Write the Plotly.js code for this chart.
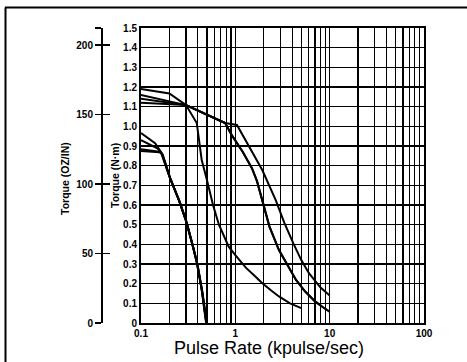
<!DOCTYPE html>
<html>
<head>
<meta charset="utf-8">
<script src="https://cdn.plot.ly/plotly-3.0.1.min.js"></script>
<style>html,body{margin:0;padding:0;background:#fff;}#chart{width:467px;height:362px;}</style>
</head>
<body>
<div id="chart"></div>
<script>
// High-speed curves (N·m vs kpulse/sec)
const curveA_x = [0.1, 0.3, 0.39, 0.44, 0.5, 0.58, 0.67, 0.76, 0.85, 1.0, 1.3, 1.64, 1.92, 2.4, 2.9, 3.8, 5.0];
const curveA_y = [1.14, 1.108, 1.017, 0.829, 0.727, 0.6, 0.5, 0.44, 0.388, 0.345, 0.28, 0.235, 0.203, 0.165, 0.135, 0.1, 0.076];
const curveB_x = [0.1, 0.3, 0.78, 0.92, 1.2, 1.5, 1.7, 1.92, 2.3, 2.9, 3.6, 4.4, 5.5, 7.0, 8.5, 10];
const curveB_y = [1.12, 1.108, 1.017, 0.954, 0.87, 0.787, 0.72, 0.624, 0.49, 0.371, 0.29, 0.219, 0.16, 0.11, 0.08, 0.057];
const curveC_x = [0.1, 0.3, 0.78, 0.92, 1.2, 1.5, 1.7, 1.92, 2.3, 2.9, 3.6, 4.4, 5.5, 7.0, 8.5, 10];
const curveC_y = [1.16, 1.108, 1.017, 0.954, 0.87, 0.787, 0.72, 0.624, 0.49, 0.371, 0.29, 0.219, 0.16, 0.11, 0.08, 0.057];
const curveD_x = [0.1, 0.2, 0.3, 0.78, 1.04, 1.4, 1.93, 2.68, 3.3, 4.12, 5.0, 6.03, 8.0, 10];
const curveD_y = [1.19, 1.167, 1.108, 1.017, 1.007, 0.896, 0.778, 0.625, 0.51, 0.405, 0.32, 0.253, 0.18, 0.14];
// Low-speed curves
const low1_x = [0.1, 0.141, 0.162, 0.18, 0.2, 0.25, 0.3, 0.35, 0.39, 0.44, 0.49];
const low1_y = [0.966, 0.914, 0.871, 0.81, 0.745, 0.63, 0.52, 0.4, 0.31, 0.17, 0];
const low2_x = [0.1, 0.149, 0.165, 0.182, 0.202, 0.252, 0.302, 0.352, 0.392, 0.442, 0.492];
const low2_y = [0.93, 0.888, 0.865, 0.805, 0.74, 0.625, 0.515, 0.395, 0.305, 0.165, 0];
const low3_x = [0.1, 0.155, 0.168, 0.184, 0.204, 0.255, 0.305, 0.355, 0.395, 0.445, 0.495];
const low3_y = [0.883, 0.871, 0.86, 0.8, 0.735, 0.62, 0.51, 0.39, 0.3, 0.16, 0];
const low4_x = [0.1, 0.158, 0.17, 0.186, 0.206, 0.258, 0.308, 0.358, 0.398, 0.448, 0.498];
const low4_y = [0.874, 0.868, 0.855, 0.795, 0.73, 0.615, 0.505, 0.385, 0.295, 0.155, 0];

// Tick labels
const xTickVals = [0.1,0.2,0.3,0.4,0.5,0.6,0.7,0.8,0.9,1,2,3,4,5,6,7,8,9,10,20,30,40,50,60,70,80,90,100];
const xTickText = ["0.1","","","","","","","","","1","","","","","","","","","10","","","","","","","","","100"];
const yTickVals = [0,0.1,0.2,0.3,0.4,0.5,0.6,0.7,0.8,0.9,1.0,1.1,1.2,1.3,1.4,1.5];
const yTickText = ["0","0.1","0.2","0.3","0.4","0.5","0.6","0.7","0.8","0.9","1.0","1.1","1.2","1.3","1.4","1.5"];
const ozTickVals = [0, 50, 100, 150, 200, 212.4];
const ozTickText = ["0", "50", "100", "150", "200", ""];
const ozMax = 212.4;

const W = 424; // plot area width (margin l=0)
const px = v => v / W;
const py = v => (323 - v) / 295;

const line = {color: '#000', width: 2};
const series = [
  [curveA_x, curveA_y], [curveB_x, curveB_y], [curveC_x, curveC_y], [curveD_x, curveD_y],
  [low1_x, low1_y], [low2_x, low2_y], [low3_x, low3_y], [low4_x, low4_y]
];
const data = series.map(s => ({x: s[0], y: s[1], type: 'scatter', mode: 'lines', line: line, hoverinfo: 'skip', showlegend: false}));
// empty traces so that the oz-in axes get drawn
data.push({x: [], y: [], type: 'scatter', mode: 'lines', yaxis: 'y2', showlegend: false});
data.push({x: [], y: [], type: 'scatter', mode: 'lines', yaxis: 'y3', showlegend: false});

const fam = 'Liberation Sans, Arial, sans-serif';
const tf = {family: fam, size: 10, color: '#000', weight: 'bold'};

const layout = {
  width: 467, height: 362,
  margin: {l: 0, r: 43, t: 28, b: 39, autoexpand: false},
  paper_bgcolor: '#fff', plot_bgcolor: '#fff',
  showlegend: false,
  font: {family: fam, size: 10, color: '#000'},
  xaxis: {
    type: 'log', range: [-1, 2], domain: [141 / W, 1],
    tickmode: 'array', tickvals: xTickVals, ticktext: xTickText,
    showgrid: true, gridcolor: '#000', gridwidth: 1.2,
    showline: true, linecolor: '#000', linewidth: 2, mirror: true,
    ticks: '', zeroline: false, tickfont: tf
  },
  yaxis: {
    range: [0, 1.5], tickmode: 'array', tickvals: yTickVals, ticktext: yTickText,
    showgrid: true, gridcolor: '#000', gridwidth: 1.2,
    showline: true, linecolor: '#000', linewidth: 2, mirror: true,
    ticks: '', zeroline: false, tickfont: tf
  },
  yaxis2: {
    range: [0, ozMax], overlaying: 'y', anchor: 'free', position: 101 / W, side: 'left',
    tickmode: 'array', tickvals: ozTickVals, ticktext: ozTickText,
    showgrid: false, zeroline: false, showline: true, linecolor: '#000', linewidth: 1.5,
    ticks: 'outside', ticklen: 6, tickwidth: 1.5, tickcolor: '#000', tickfont: tf
  },
  yaxis3: {
    range: [0, ozMax], overlaying: 'y', anchor: 'free', position: 101 / W, side: 'left',
    tickmode: 'array', tickvals: ozTickVals,
    showgrid: false, zeroline: false, showline: false, showticklabels: false,
    ticks: 'inside', ticklen: 8, tickwidth: 1.5, tickcolor: '#000'
  },
  annotations: [
    {text: 'Torque (OZ/IN)', xref: 'paper', yref: 'paper', x: px(65), y: py(179), textangle: -90,
     showarrow: false, xanchor: 'center', yanchor: 'middle', font: {family: fam, size: 10.5, color: '#000', weight: 'bold'}},
    {text: 'Torque (N·m)', xref: 'paper', yref: 'paper', x: px(115), y: py(176), textangle: -90,
     showarrow: false, xanchor: 'center', yanchor: 'middle', font: {family: fam, size: 10.5, color: '#000', weight: 'bold'}},
    {text: 'Pulse Rate (kpulse/sec)', xref: 'paper', yref: 'paper', x: px(269), y: py(348),
     showarrow: false, xanchor: 'center', yanchor: 'middle', font: {family: fam, size: 18, color: '#000', weight: 'normal'}}
  ],
  shapes: [
    {type: 'line', xref: 'paper', yref: 'paper', x0: px(5), x1: px(480), y0: py(7.5), y1: py(7.5), line: {color: '#000', width: 2}},
    {type: 'line', xref: 'paper', yref: 'paper', x0: px(5.5), x1: px(5.5), y0: py(7.5), y1: py(380), line: {color: '#000', width: 2}}
  ]
};

Plotly.newPlot('chart', data, layout, {staticPlot: true, displayModeBar: false});
</script>
</body>
</html>
